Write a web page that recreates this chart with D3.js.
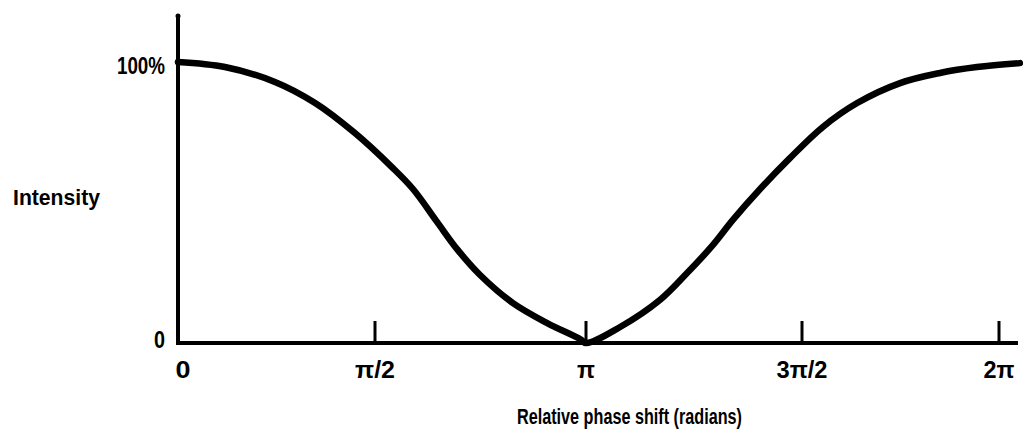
<!DOCTYPE html>
<html lang="en">
<head>
<meta charset="UTF-8">
<title>Intensity vs relative phase shift</title>
<script src="https://cdn.jsdelivr.net/npm/d3@7"></script>
<style>
  body { margin: 0; background: #fff; }
  svg text { font-family: "Liberation Sans", Arial, sans-serif; font-weight: bold; fill: #000; }
</style>
</head>
<body>
<div id="chart"></div>
<script>
// phase in units of pi, intensity in %
var phase = [0, 0.119, 0.246, 0.348, 0.449, 0.540, 0.590, 0.647, 0.694, 0.749, 0.827, 0.908, 0.986, 1.0,
             1.079, 1.171, 1.234, 1.294, 1.340, 1.403, 1.472, 1.553, 1.640, 1.749, 1.850, 1.944, 2.053];
var intensity = [100, 98.2, 92.9, 85.4, 74.7, 62.6, 54.8, 43.1, 33.5, 24.2, 14.2, 7.1, 1.4, 0,
                 5.7, 15.3, 24.9, 34.9, 43.8, 54.8, 65.8, 76.9, 85.4, 92.5, 96.1, 98.2, 99.6];
var xTicks = [0, 0.5, 1, 1.5, 2];
var xTickLabels = ["0", "\u03c0/2", "\u03c0", "3\u03c0/2", "2\u03c0"];
var yTicks = [0, 100];
var yTickLabels = ["0", "100%"];

var W = 1023, H = 433;
var svg = d3.select("#chart").append("svg").attr("width", W).attr("height", H);

// hand drawn axis: tick spacing is not quite even
var x = d3.scaleLinear().domain([0, 0.5, 1, 1.5, 2]).range([178, 375, 586, 802, 999]);
var y = d3.scaleLinear().domain([0, 100]).range([343, 62]);

// axes
svg.append("line").attr("x1", 178).attr("x2", 178).attr("y1", 15).attr("y2", 345)
  .attr("stroke", "#000").attr("stroke-width", 4);
svg.append("circle").attr("cx", 178).attr("cy", 16).attr("r", 2.5);
svg.append("line").attr("x1", 176).attr("x2", 1018).attr("y1", 343).attr("y2", 343)
  .attr("stroke", "#000").attr("stroke-width", 4);

// x ticks (none at 0)
svg.selectAll(".xt").data(xTicks.slice(1)).enter().append("line")
  .attr("x1", function(d){ return x(d); }).attr("x2", function(d){ return x(d); })
  .attr("y1", 321).attr("y2", 343).attr("stroke", "#000").attr("stroke-width", 3);

var xLabelW = [15, 40, 18, 51, 31];
svg.selectAll(".xl").data(xTicks).enter().append("text")
  .attr("x", function(d, i){ return i === 0 ? x(d) + 5 : x(d); })
  .attr("y", 378).attr("text-anchor", "middle").attr("font-size", 23)
  .attr("textLength", function(d, i){ return xLabelW[i]; })
  .attr("lengthAdjust", "spacingAndGlyphs")
  .text(function(d, i){ return xTickLabels[i]; });

var yLabelW = [11, 48];
svg.selectAll(".yl").data(yTicks).enter().append("text")
  .attr("x", 165).attr("y", function(d){ return d === 0 ? 348 : 74; })
  .attr("text-anchor", "end").attr("font-size", 23)
  .attr("textLength", function(d, i){ return yLabelW[i]; })
  .attr("lengthAdjust", "spacingAndGlyphs")
  .text(function(d, i){ return yTickLabels[i]; });

svg.append("text").attr("x", 13).attr("y", 205).attr("font-size", 22)
  .attr("textLength", 87).attr("lengthAdjust", "spacingAndGlyphs").text("Intensity");
svg.append("text").attr("x", 517).attr("y", 424).attr("font-size", 22)
  .attr("textLength", 225).attr("lengthAdjust", "spacingAndGlyphs")
  .text("Relative phase shift (radians)");

// curve
var pts = phase.map(function(p, i){ return [p, intensity[i]]; });
var line = d3.line().x(function(d){ return x(d[0]); }).y(function(d){ return y(d[1]); })
  .curve(d3.curveCatmullRom.alpha(0.5));
svg.append("path").datum(pts).attr("d", line).attr("fill", "none")
  .attr("stroke", "#000").attr("stroke-width", 6.5).attr("stroke-linecap", "round");
</script>
</body>
</html>
